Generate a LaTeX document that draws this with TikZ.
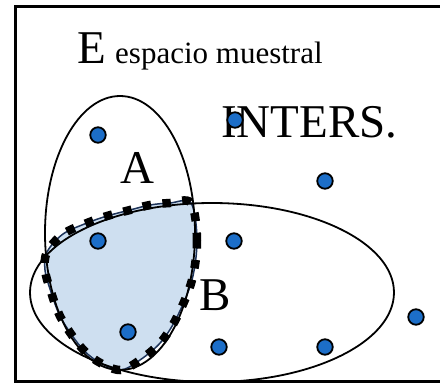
\documentclass[tikz,border=0pt]{standalone}
\usepackage{fontspec}
\setmainfont{Liberation Serif}
\usetikzlibrary{shapes.geometric}
\definecolor{dotblue}{RGB}{28,110,200}
\definecolor{shade}{RGB}{206,223,240}
\definecolor{navy}{RGB}{30,52,90}
\tikzset{
  dot/.style={circle, fill=dotblue, draw=black, line width=1.8pt, minimum size=15.5pt, inner sep=0pt},
  setline/.style={draw=black, line width=1.8pt, ellipse, inner sep=0pt},
  bigtxt/.style={inner sep=0pt, anchor=base west, font=\fontsize{47}{50}\selectfont},
  smalltxt/.style={inner sep=0pt, anchor=base west, font=\fontsize{31}{34}\selectfont},
  interdash/.style={draw=black, line width=8.5pt, dash pattern=on 8.5pt off 11.5pt}
}
\begin{document}
\begin{tikzpicture}[x=1pt,y=-1pt]
\useasboundingbox (0,0) rectangle (440,384);
\fill[white] (0,0) rectangle (440,384);
% frame
\draw[line width=3pt] (460,6.5) -- (15,6.5) -- (15,381.5) -- (460,381.5);
% shaded intersection
\path[fill=shade, draw=navy, line width=1.5pt]
  plot[smooth cycle, tension=0.55] coordinates {
  (191,203) (197,240) (192,280) (177,317) (161,342) (140,360) (120,370)
  (97,361) (80,346) (61,318) (51,292) (45,270) (47,252) (63,234)
  (87,223) (107,216) (130,210) (150,205) (170,203)};
% sets
\node[setline, minimum width=150pt, minimum height=274pt] (A) at (120,233) {};
\node[setline, minimum width=364pt, minimum height=179pt] (B) at (212,292.5) {};
% dashed border of intersection
\path[interdash]
  plot[smooth cycle, tension=0.55] coordinates {
  (191,203) (197,240) (192,280) (177,317) (161,342) (140,360) (120,370)
  (97,361) (80,346) (61,318) (51,292) (45,270) (47,252) (63,234)
  (87,223) (107,216) (130,210) (150,205) (170,203)};
% texts
\node[bigtxt] (E) at (77,63) {E};
\node[smalltxt] (esp) at (115,63) {espacio muestral};
\node[bigtxt] (inters) at (221,137) {INTERS.};
\node[bigtxt] (la) at (120,183) {A};
\node[bigtxt] (lb) at (199,310) {B};
% points
\node[dot] (d1) at (98,135) {};
\node[dot] (d2) at (235,120) {};
\node[dot] (d3) at (325,181) {};
\node[dot] (d4) at (98,241) {};
\node[dot] (d5) at (234,241) {};
\node[dot] (d6) at (128,332) {};
\node[dot] (d7) at (219,347) {};
\node[dot] (d8) at (325,347) {};
\node[dot] (d9) at (416,317) {};
\end{tikzpicture}
\end{document}
